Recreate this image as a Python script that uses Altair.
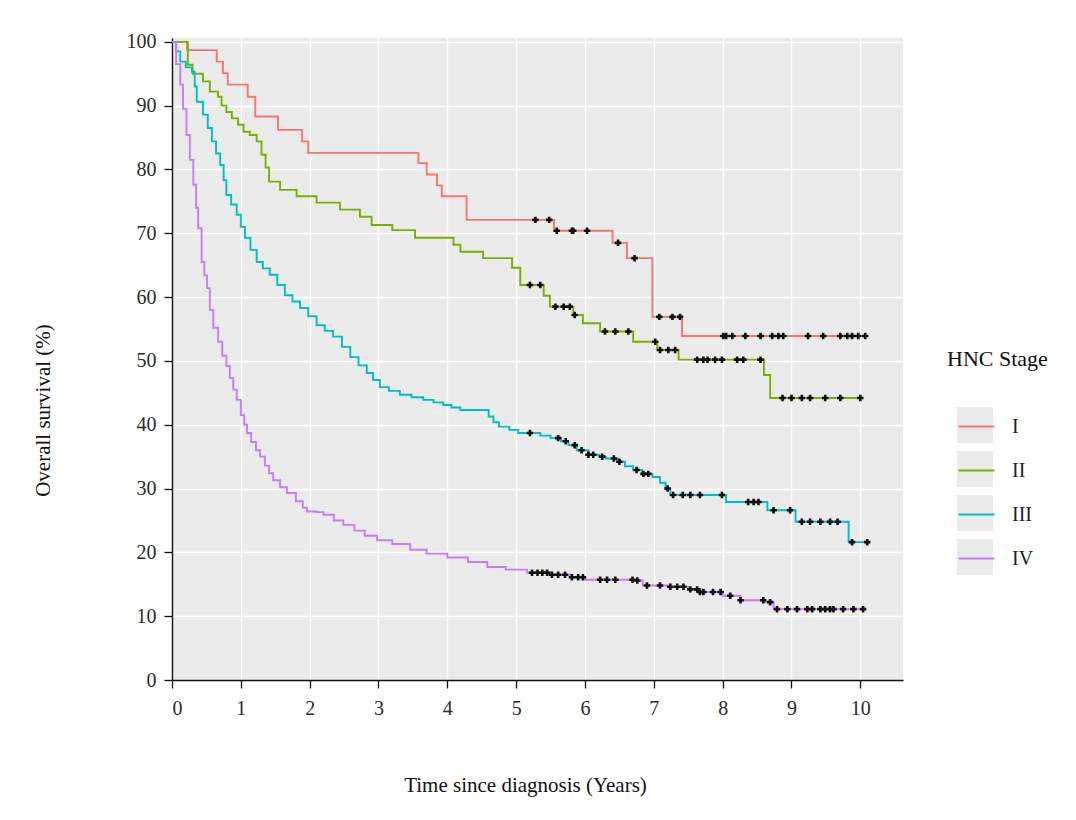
import altair as alt
import pandas as pd

stages = ["I", "II", "III", "IV"]
colors = ["#F8766D", "#7CAE00", "#00BFC4", "#C77CFF"]

# Kaplan-Meier step change points (time in years, survival in %)
t_I = [0, 0.22, 0.65, 0.74, 0.81, 1.10, 1.21, 1.54, 1.89, 1.98, 3.58, 3.70, 3.85, 3.92, 4.28,
       5.55, 6.40, 6.61, 6.98, 7.41, 10.07]
s_I = [100, 98.7, 96.9, 95.1, 93.3, 91.4, 88.3, 86.2, 84.4, 82.6, 81.0, 79.2, 77.5, 75.8, 72.1,
       70.4, 68.5, 66.1, 56.9, 53.9, 53.9]
c_I = [5.28, 5.48, 5.59, 5.81, 5.83, 6.03, 6.48, 6.72, 7.08, 7.27, 7.38, 8.01, 8.05, 8.14, 8.33,
       8.55, 8.72, 8.81, 8.88, 9.24, 9.46, 9.71, 9.81, 9.88, 9.97, 10.07]

t_II = [0, 0.23, 0.30, 0.45, 0.55, 0.67, 0.72, 0.79, 0.87, 0.96, 1.04, 1.13, 1.23, 1.30, 1.36,
        1.41, 1.57, 1.81, 2.10, 2.44, 2.73, 2.90, 3.20, 3.53, 4.09, 4.19, 4.52, 4.94, 5.06, 5.40,
        5.49, 5.83, 5.97, 6.22, 6.70, 7.05, 7.36, 8.60, 8.69, 10.02]
s_II = [100, 96.4, 95.0, 93.8, 92.2, 91.4, 90.0, 89.0, 88.0, 87.0, 85.9, 85.4, 84.4, 82.3, 80.3,
        78.1, 76.8, 75.8, 74.8, 73.7, 72.6, 71.3, 70.5, 69.3, 68.2, 67.1, 66.1, 64.6, 61.9, 60.2,
        58.5, 57.2, 55.9, 54.6, 53.0, 51.7, 50.2, 47.8, 44.2, 44.2]
c_II = [5.20, 5.35, 5.57, 5.69, 5.78, 5.85, 6.29, 6.44, 6.63, 7.02, 7.09, 7.21, 7.31, 7.63, 7.72,
        7.78, 7.89, 7.99, 8.21, 8.30, 8.55, 8.87, 9.00, 9.15, 9.27, 9.49, 9.71, 10.00]

t_III = [0, 0.06, 0.12, 0.20, 0.29, 0.33, 0.36, 0.45, 0.52, 0.58, 0.64, 0.70, 0.75, 0.79, 0.86,
         0.94, 1.00, 1.06, 1.14, 1.23, 1.32, 1.42, 1.53, 1.64, 1.75, 1.86, 1.98, 2.10, 2.22, 2.34,
         2.47, 2.59, 2.71, 2.83, 2.92, 3.02, 3.15, 3.31, 3.48, 3.65, 3.80, 3.94, 4.06, 4.19, 4.60,
         4.67, 4.75, 4.90, 5.03, 5.35, 5.50, 5.65, 5.76, 5.88, 6.05, 6.20, 6.30, 6.47, 6.58, 6.70,
         6.83, 6.98, 7.09, 7.17, 7.24, 8.05, 8.65, 9.06, 9.83, 10.10]
s_III = [100, 98.5, 96.9, 96.0, 95.3, 93.0, 90.6, 88.6, 86.5, 84.4, 82.5, 80.7, 78.3, 76.0, 74.5,
         72.9, 71.0, 69.3, 67.4, 65.5, 64.5, 63.5, 61.9, 60.3, 59.3, 58.3, 57.0, 55.6, 54.7, 53.8,
         52.2, 50.6, 49.3, 48.1, 47.0, 45.9, 45.3, 44.7, 44.3, 43.9, 43.5, 43.1, 42.7, 42.3, 41.3,
         40.4, 39.7, 39.2, 38.7, 38.3, 37.9, 37.4, 36.8, 36.0, 35.3, 35.0, 34.7, 34.2, 33.5, 32.9,
         32.3, 31.8, 30.9, 30.0, 29.0, 27.9, 26.6, 24.8, 21.6, 21.6]
c_III = [5.20, 5.61, 5.72, 5.85, 5.95, 6.05, 6.12, 6.25, 6.42, 6.50, 6.75, 6.85, 6.92, 7.20, 7.28,
         7.42, 7.53, 7.67, 7.99, 8.37, 8.45, 8.52, 8.74, 8.98, 9.15, 9.27, 9.42, 9.56, 9.67, 9.88,
         10.10]

t_IV = [0, 0.06, 0.12, 0.16, 0.21, 0.26, 0.31, 0.35, 0.38, 0.43, 0.47, 0.51, 0.55, 0.60, 0.67,
        0.73, 0.79, 0.84, 0.89, 0.94, 1.00, 1.05, 1.09, 1.15, 1.22, 1.28, 1.35, 1.41, 1.47, 1.57,
        1.67, 1.80, 1.90, 1.96, 2.10, 2.20, 2.35, 2.49, 2.65, 2.80, 2.98, 3.20, 3.46, 3.70, 4.00,
        4.30, 4.58, 4.85, 5.16, 5.50, 5.80, 6.00, 6.70, 6.84, 7.20, 7.50, 7.67, 8.00, 8.26, 8.60,
        8.74, 10.07]
s_IV = [100, 96.5, 93.3, 89.5, 85.4, 81.5, 77.6, 74.0, 70.8, 65.5, 63.4, 61.4, 58.0, 55.2, 53.0,
        50.8, 49.2, 47.3, 45.5, 43.9, 41.5, 40.0, 38.7, 37.3, 36.0, 35.0, 33.6, 32.4, 31.3, 30.2,
        29.3, 28.0, 27.0, 26.4, 26.3, 25.9, 25.0, 24.3, 23.4, 22.6, 21.9, 21.3, 20.4, 19.8, 19.2,
        18.5, 17.7, 17.3, 16.8, 16.5, 16.1, 15.7, 15.6, 14.8, 14.6, 14.2, 13.8, 13.2, 12.5, 12.2,
        11.1, 11.1]
c_IV = [5.23, 5.31, 5.38, 5.45, 5.52, 5.61, 5.71, 5.81, 5.90, 5.97, 6.22, 6.32, 6.44, 6.69, 6.76,
        6.90, 7.09, 7.24, 7.34, 7.43, 7.53, 7.63, 7.67, 7.72, 7.86, 7.97, 8.11, 8.26, 8.59, 8.69,
        8.79, 8.94, 9.08, 9.23, 9.30, 9.42, 9.49, 9.56, 9.61, 9.75, 9.90, 10.04]

x_ticks = list(range(0, 11))
y_ticks = list(range(0, 101, 10))

series = {"I": (t_I, s_I, c_I), "II": (t_II, s_II, c_II),
          "III": (t_III, s_III, c_III), "IV": (t_IV, s_IV, c_IV)}

line_rows, cens_rows = [], []
for st, (ts, ss, cs) in series.items():
    for t, s in zip(ts, ss):
        line_rows.append({"time": t, "surv": s, "stage": st})
    for c in cs:
        val = ss[0]
        for t, s in zip(ts, ss):
            if t <= c:
                val = s
        cens_rows.append({"time": c, "surv": val, "stage": st})

lines_df = pd.DataFrame(line_rows)
cens_df = pd.DataFrame(cens_rows)

FONT = "Liberation Serif"
PW, PH = 731, 642

xs = alt.X("time:Q", scale=alt.Scale(domain=[0, 10.62], nice=False, zero=False),
           axis=alt.Axis(values=x_ticks, format="d", title="Time since diagnosis (Years)",
                         titleX=353, titleY=105, titleAlign="center", titleBaseline="middle",
                         labelPadding=10))
ys = alt.Y("surv:Q", scale=alt.Scale(domain=[0, 100.6], nice=False),
           axis=alt.Axis(values=y_ticks, format="d", title="Overall survival (%)",
                         titleX=-129, titleY=372, titleAngle=270, titleAlign="center",
                         titleBaseline="middle", labelPadding=8))

common_legend = dict(orient="none", legendX=775, legendY=311, title="HNC Stage",
                     titleFont=FONT, titleFontSize=22, titleFontWeight="normal",
                     titleColor="#111111", titlePadding=36, labelFont=FONT, labelFontSize=20,
                     labelColor="#222222", labelOffset=16, symbolSize=1296,
                     symbolOffset=10)

lines = alt.Chart(lines_df).mark_line(interpolate="step-after", strokeWidth=1.9).encode(
    x=xs, y=ys,
    color=alt.Color("stage:N", scale=alt.Scale(range=colors),
                    legend=alt.Legend(symbolType="stroke", symbolStrokeWidth=2.2, zindex=1,
                                      rowPadding=14, **common_legend)),
    detail="stage:N",
)

# legend key backgrounds (grey boxes behind the legend lines); no marks drawn
boxes = alt.Chart(lines_df).transform_filter("datum.time < 0").mark_point(
    filled=True, color="#EBEBEB", opacity=1, strokeWidth=0).encode(
    x="time:Q", y="surv:Q",
    shape=alt.Shape("stage:N", scale=alt.Scale(domain=stages, range=["square"] * 4),
                    legend=alt.Legend(zindex=0, labelExpr="''", titleOpacity=0,
                                      symbolFillColor="#EBEBEB", symbolStrokeColor="#EBEBEB",
                                      symbolOpacity=1, symbolStrokeWidth=0, rowPadding=8,
                                      **common_legend)),
)

cens = alt.Chart(cens_df).mark_point(shape="cross", filled=True, size=42, color="#111111",
                                     opacity=1, strokeWidth=0).encode(
    x="time:Q", y="surv:Q",
)

chart = alt.layer(boxes, lines, cens).properties(
    width=PW, height=PH,
    autosize=alt.AutoSizeParams(type="none"),
    padding={"left": 172, "top": 38, "right": 1076 - 172 - PW, "bottom": 820 - 38 - PH},
).configure(background="white").configure_view(fill="#EBEBEB", stroke=None).configure_axis(
    grid=True, gridColor="#FFFFFF", gridWidth=1.4, domainColor="#111111", domainWidth=1.4,
    tickColor="#111111", tickSize=8, tickWidth=1.3, labelFont=FONT, labelFontSize=20,
    labelColor="#2b2b2b", titleFont=FONT, titleFontSize=21, titleFontWeight="normal",
    titleColor="#111111",
)

chart.save("out.html", embed_options={"renderer": "svg", "actions": False})
